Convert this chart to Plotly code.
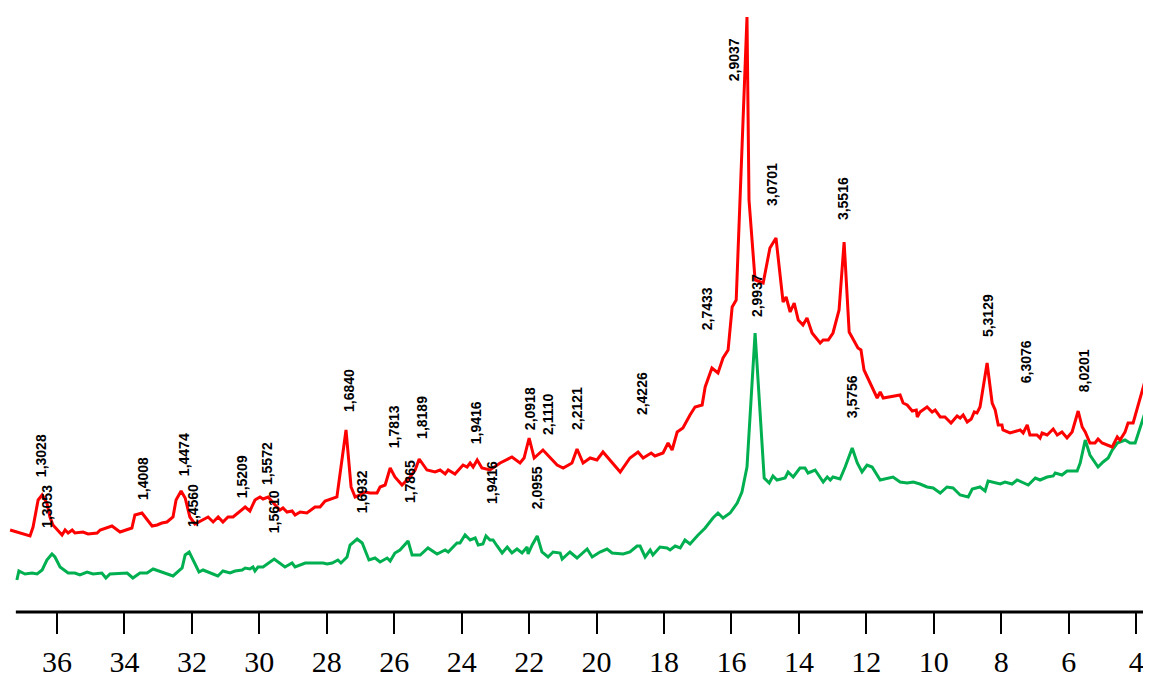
import plotly.graph_objects as go

# ---- data: 2-theta (deg) and intensity (arbitrary units) ----
red_2theta = [37.39, 36.80, 36.71, 36.56, 36.44, 36.30, 36.21, 36.12, 35.85, 35.76, 35.67, 35.55, 35.47, 35.23,
              35.08, 34.81, 34.72, 34.37, 34.13, 33.78, 33.69, 33.48, 33.18, 33.03, 32.89, 32.74, 32.56, 32.47,
              32.32, 32.20, 32.06, 31.91, 31.52, 31.37, 31.22, 31.08, 30.93, 30.78, 30.42, 30.28, 30.13, 29.98,
              29.89, 29.74, 29.53, 29.39, 29.30, 29.18, 29.03, 28.94, 28.79, 28.59, 28.35, 28.20, 28.05, 27.70,
              27.43, 27.28, 27.16, 27.01, 26.87, 26.72, 26.51, 26.42, 26.27, 26.12, 25.98, 25.89, 25.77, 25.53,
              25.38, 25.26, 25.03, 24.79, 24.64, 24.49, 24.40, 24.20, 23.96, 23.84, 23.75, 23.66, 23.54, 23.40,
              23.16, 22.86, 22.51, 22.27, 22.15, 22.00, 21.85, 21.59, 21.17, 20.99, 20.73, 20.58, 20.40, 20.19,
              19.99, 19.81, 19.60, 19.30, 19.01, 18.77, 18.62, 18.38, 18.27, 18.03, 17.88, 17.76, 17.61, 17.44,
              17.23, 17.08, 16.87, 16.78, 16.58, 16.40, 16.25, 16.10, 15.98, 15.86, 15.54, 15.48, 15.30, 15.06,
              14.86, 14.68, 14.47, 14.38, 14.26, 14.14, 14.02, 13.88, 13.76, 13.61, 13.37, 13.28, 13.13, 12.99,
              12.81, 12.66, 12.51, 12.25, 12.16, 12.07, 11.68, 11.59, 11.50, 11.00, 10.91, 10.79, 10.64, 10.52,
              10.49, 10.41, 10.20, 10.05, 9.96, 9.81, 9.67, 9.49, 9.31, 9.22, 9.13, 9.01, 8.89, 8.80, 8.72, 8.63,
              8.42, 8.27, 8.18, 8.09, 7.98, 7.95, 7.74, 7.65, 7.44, 7.35, 7.23, 7.15, 6.94, 6.85, 6.79, 6.64,
              6.46, 6.34, 6.20, 6.05, 5.90, 5.72, 5.60, 5.51, 5.37, 5.22, 5.13, 5.01, 4.86, 4.71, 4.56, 4.48,
              4.33, 4.24, 4.09, 3.73, 3.58]
red_intensity = [82, 76, 85, 112, 117, 109, 95, 87, 77, 82, 79, 82, 79, 80,
                 78, 79, 82, 86, 80, 84, 97, 99, 86, 87, 89, 90, 95, 112,
                 121, 114, 95, 88, 95, 90, 95, 90, 95, 95, 105, 101, 112, 115,
                 113, 115, 107, 102, 104, 100, 101, 97, 100, 99, 105, 105, 111, 115,
                 182, 125, 115, 117, 120, 119, 119, 125, 127, 144, 135, 132, 127, 135,
                 142, 153, 142, 140, 142, 138, 142, 138, 147, 145, 149, 145, 152, 144,
                 142, 149, 155, 149, 154, 174, 154, 162, 147, 144, 149, 163, 149, 154,
                 152, 160, 152, 140, 154, 160, 154, 159, 156, 159, 169, 162, 180, 184,
                 197, 205, 207, 225, 244, 239, 254, 262, 305, 312, 595, 412, 332, 329,
                 364, 374, 310, 315, 300, 309, 292, 287, 294, 279, 269, 272, 272, 279,
                 302, 370, 280, 264, 262, 242, 214, 220, 214, 217, 209, 207, 201, 202,
                 195, 200, 205, 200, 202, 195, 195, 189, 196, 194, 197, 190, 193, 200, 199, 205,
                 249, 209, 202, 187, 187, 182, 179, 180, 182, 179, 187, 177, 177, 174, 179, 177,
                 183, 177, 180, 174, 180, 201, 185, 180, 169, 169, 173, 169, 167, 165, 175, 172,
                 180, 189, 189, 232, 214]

green_2theta = [37.19, 37.13, 36.95, 36.74, 36.59, 36.44, 36.30, 36.15, 36.06, 35.91, 35.67, 35.47, 35.32, 35.11,
                34.93, 34.67, 34.55, 34.43, 33.92, 33.75, 33.54, 33.33, 33.15, 32.56, 32.29, 32.20, 32.08, 31.97,
                31.79, 31.67, 31.23, 31.08, 30.87, 30.72, 30.51, 30.42, 30.28, 30.19, 30.13, 30.04, 29.89, 29.56,
                29.24, 29.03, 28.94, 28.64, 28.26, 28.11, 27.99, 27.84, 27.67, 27.58, 27.40, 27.31, 27.10, 26.95,
                26.75, 26.57, 26.42, 26.21, 26.12, 25.98, 25.83, 25.59, 25.47, 25.23, 25.00, 24.73, 24.49, 24.40,
                24.14, 24.05, 23.90, 23.75, 23.60, 23.51, 23.37, 23.28, 23.16, 23.07, 22.95, 22.80, 22.65, 22.51,
                22.36, 22.21, 22.06, 22.03, 21.91, 21.76, 21.62, 21.44, 21.29, 21.08, 21.02, 20.79, 20.58, 20.28,
                20.13, 19.90, 19.69, 19.54, 19.21, 19.01, 18.80, 18.71, 18.56, 18.41, 18.33, 18.12, 17.91, 17.82,
                17.67, 17.52, 17.38, 17.23, 16.99, 16.78, 16.55, 16.40, 16.25, 16.04, 15.83, 15.69, 15.54, 15.30,
                15.03, 14.88, 14.77, 14.65, 14.41, 14.32, 14.17, 13.97, 13.82, 13.73, 13.52, 13.28, 13.16, 13.07,
                12.99, 12.78, 12.63, 12.42, 12.27, 12.13, 11.98, 11.83, 11.59, 11.38, 11.21, 11.00, 10.79, 10.61,
                10.41, 10.20, 10.02, 9.81, 9.61, 9.43, 9.22, 8.98, 8.86, 8.63, 8.48, 8.39, 8.18, 8.03, 7.89, 7.68,
                7.53, 7.35, 7.20, 6.99, 6.85, 6.64, 6.46, 6.40, 6.20, 6.05, 5.75, 5.66, 5.51, 5.37, 5.22, 5.13,
                4.98, 4.83, 4.71, 4.56, 4.33, 4.18, 4.03, 3.73, 3.64]
green_intensity = [32, 41, 38, 39, 38, 42, 52, 58, 55, 45, 39, 39, 37, 40,
                   38, 39, 34, 38, 39, 34, 39, 39, 43, 36, 44, 57, 60, 52,
                   40, 42, 36, 41, 39, 41, 42, 44, 43, 45, 41, 45, 45, 53,
                   45, 49, 45, 49, 49, 49, 48, 49, 52, 49, 55, 67, 73, 69,
                   52, 54, 50, 54, 51, 59, 62, 71, 57, 57, 64, 58, 62, 60,
                   69, 69, 77, 72, 74, 67, 68, 76, 72, 72, 66, 59, 65, 59,
                   63, 59, 65, 58, 67, 76, 60, 55, 60, 59, 53, 60, 54, 63,
                   55, 60, 63, 59, 58, 60, 66, 66, 55, 62, 57, 65, 64, 62,
                   66, 64, 72, 68, 77, 84, 94, 99, 94, 99, 109, 120, 145, 279,
                   134, 129, 136, 132, 134, 140, 135, 144, 144, 139, 142, 130, 135, 132,
                   135, 133, 145, 164, 149, 140, 147, 145, 132, 134, 135, 130, 129, 130,
                   128, 125, 124, 119, 125, 124, 117, 115, 123, 125, 121, 131, 129, 128, 130, 128,
                   132, 129, 127, 134, 132, 135, 136, 139, 137, 141, 141, 149, 172, 157, 150, 145,
                   150, 154, 162, 169, 172, 169, 169, 200, 187]

# peak labels (d-spacings) with their anchor 2-theta / intensity
label_text = ["1,3028", "1,3053", "1,4008", "1,4474", "1,4560", "1,5209", "1,5572", "1,5610",
              "1,6840", "1,6932", "1,7813", "1,7865", "1,8189", "1,9416", "1,9416", "2,0918",
              "2,1110", "2,0955", "2,2121", "2,4226", "2,7433", "2,9037", "2,9937", "3,0701",
              "3,5516", "3,5756", "5,3129", "6,3076", "8,0201"]
label_2theta = [36.47, 36.30, 33.45, 32.23, 31.97, 30.51, 29.77, 29.56,
                27.34, 26.95, 26.00, 25.53, 25.18, 23.57, 23.10, 21.97,
                21.44, 21.76, 20.58, 18.65, 16.72, 15.92, 15.24, 14.80,
                12.69, 12.42, 8.39, 7.26, 5.54]
label_intensity = [156, 106, 133, 157, 107, 135, 148, 100,
                   221, 120, 185, 130, 195, 189, 129, 203,
                   197, 124, 203, 218, 303, 552, 316, 428,
                   413, 215, 296, 250, 241]

tick_values = [36, 34, 32, 30, 28, 26, 24, 22, 20, 18, 16, 14, 12, 10, 8, 6, 4]

fig = go.Figure()
fig.add_trace(go.Scatter(x=green_2theta, y=green_intensity, mode="lines",
                         line=dict(color="#00B050", width=3), showlegend=False))
fig.add_trace(go.Scatter(x=red_2theta, y=red_intensity, mode="lines",
                         line=dict(color="#FF0000", width=3), showlegend=False))

for t, xv, yv in zip(label_text, label_2theta, label_intensity):
    fig.add_annotation(x=xv, y=yv, text="<b>" + t + "</b>", textangle=-90, showarrow=False,
                       font=dict(family="Liberation Sans, Arial, sans-serif", size=14, color="black"))

# axis baseline
fig.add_shape(type="line", xref="x", yref="paper", x0=37.22, x1=3.3, y0=0, y1=0,
              line=dict(color="black", width=3))

fig.update_layout(
    width=1143, height=672,
    margin=dict(l=0, r=0, t=0, b=68, autoexpand=False),
    paper_bgcolor="white", plot_bgcolor="white",
    xaxis=dict(range=[37.453, 3.56], tickvals=tick_values, ticktext=[str(v) for v in tick_values],
               ticks="outside", ticklen=21, tickwidth=2, tickcolor="black",
               ticklabelstandoff=2, automargin=False,
               showgrid=False, zeroline=False, showline=False,
               tickfont=dict(family="Liberation Serif, Times New Roman, serif", size=30, color="black")),
    yaxis=dict(range=[0, 604], visible=False, showgrid=False, zeroline=False),
)

fig.write_html("out.html")
